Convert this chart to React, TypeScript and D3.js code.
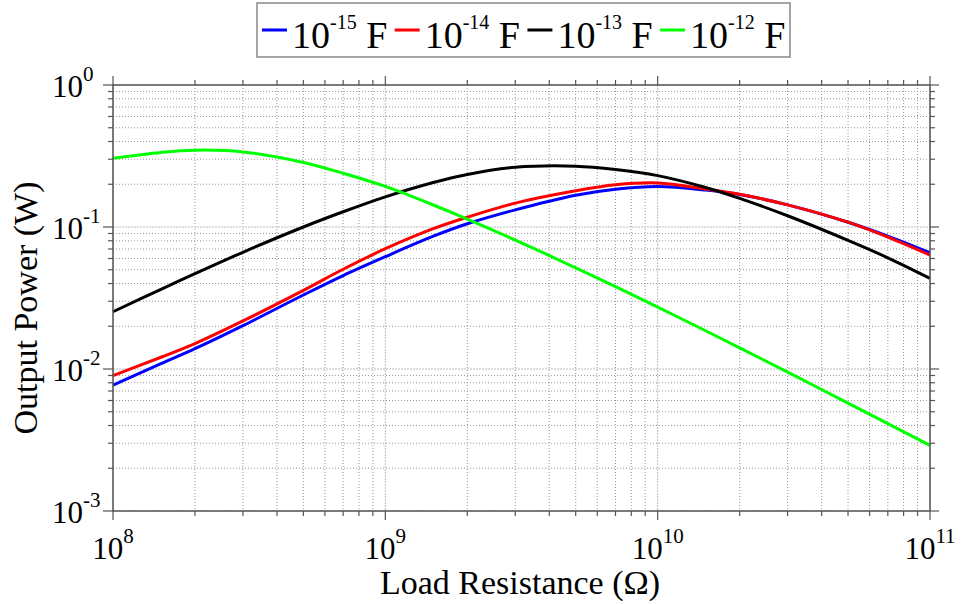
import React from "react";
import * as d3 from "d3";

const resistance = [1e8, 1.5e8, 2e8, 3e8, 5e8, 7e8, 1e9, 1.5e9, 2e9, 3e9, 5e9, 7e9, 1e10, 1.5e10, 2e10, 3e10, 5e10, 7e10, 1e11];
const power15 = [0.0077, 0.0109, 0.0139, 0.0202, 0.0332, 0.0455, 0.0618, 0.0861, 0.1054, 0.1321, 0.1675, 0.1845, 0.1928, 0.182, 0.1694, 0.1432, 0.1081, 0.0863, 0.0659];
const power14 = [0.00897, 0.0121, 0.0151, 0.0218, 0.0358, 0.0504, 0.0703, 0.0973, 0.1172, 0.1472, 0.1799, 0.1982, 0.2042, 0.1849, 0.1698, 0.1432, 0.1081, 0.0849, 0.0635];
const power13 = [0.0253, 0.0364, 0.0469, 0.0664, 0.1, 0.128, 0.163, 0.2056, 0.2344, 0.263, 0.268, 0.254, 0.23, 0.1897, 0.159, 0.12, 0.0805, 0.0607, 0.0435];
const power12 = [0.305, 0.335, 0.3475, 0.338, 0.285, 0.239, 0.193, 0.1429, 0.1138, 0.0809, 0.0516, 0.038, 0.0273, 0.0186, 0.0141, 0.0095, 0.00575, 0.00412, 0.0029];

const seriesExps = ["-15", "-14", "-13", "-12"];
const seriesColors = ["#0000ff", "#ff0000", "#000000", "#00ff00"];
const seriesValues = [power15, power14, power13, power12];

const xMajors = [1e8, 1e9, 1e10, 1e11];
const xMajorExps = ["8", "9", "10", "11"];
const yMajors = [1e-3, 1e-2, 1e-1, 1];
const yMajorExps = ["-3", "-2", "-1", "0"];

const FONT = "'Liberation Serif', 'Times New Roman', serif";

function minors(decades: number[]) {
  const out: number[] = [];
  for (let i = 0; i < decades.length - 1; i++) {
    for (let k = 2; k <= 9; k++) out.push(decades[i] * k);
  }
  return out;
}

export default function App() {
  const W = 963, H = 604;
  const left = 113, right = 930, top = 85, bottom = 511;
  const x = d3.scaleLog().domain([1e8, 1e11]).range([left, right]);
  const y = d3.scaleLog().domain([1e-3, 1]).range([bottom, top]);
  const xMin = minors(xMajors);
  const yMin = minors(yMajors);
  const line = d3
    .line<[number, number]>()
    .x((d) => x(d[0]))
    .y((d) => y(d[1]))
    .curve(d3.curveCatmullRom.alpha(0.5));
  const axisColor = "#555";

  return (
    <svg width={W} height={H} style={{ position: "absolute", left: 0, top: 0, background: "#fff" }}>
      <rect x={0} y={0} width={W} height={H} fill="#fff" />
      {/* grid */}
      <g>
        {xMin.map((v, i) => (
          <line key={"xm" + i} x1={x(v)} x2={x(v)} y1={top} y2={bottom} stroke="#999" strokeWidth={1} strokeDasharray="1,2" />
        ))}
        {yMin.map((v, i) => (
          <line key={"ym" + i} x1={left} x2={right} y1={y(v)} y2={y(v)} stroke="#999" strokeWidth={1} strokeDasharray="1,2" />
        ))}
        {xMajors.map((v, i) => (
          <line key={"xM" + i} x1={x(v)} x2={x(v)} y1={top} y2={bottom} stroke="#bbb" strokeWidth={1} strokeDasharray="2,1" />
        ))}
        {yMajors.map((v, i) => (
          <line key={"yM" + i} x1={left} x2={right} y1={y(v)} y2={y(v)} stroke="#bbb" strokeWidth={1} strokeDasharray="2,1" />
        ))}
      </g>
      {/* series */}
      <g fill="none">
        {seriesValues.map((vals, si) => (
          <path
            key={"s" + si}
            d={line(resistance.map((r, i) => [r, vals[i]] as [number, number])) || ""}
            stroke={seriesColors[si]}
            strokeWidth={3}
            strokeLinejoin="round"
          />
        ))}
      </g>
      {/* frame */}
      <rect x={left} y={top} width={right - left} height={bottom - top} fill="none" stroke={axisColor} strokeWidth={1.5} />
      {/* ticks */}
      <g stroke={axisColor} strokeWidth={1.2}>
        {xMin.map((v, i) => (
          <g key={"xt" + i}>
            <line x1={x(v)} x2={x(v)} y1={bottom} y2={bottom + 5} />
            <line x1={x(v)} x2={x(v)} y1={top} y2={top - 5} />
          </g>
        ))}
        {xMajors.map((v, i) => (
          <g key={"xT" + i}>
            <line x1={x(v)} x2={x(v)} y1={bottom} y2={bottom + 9} />
            <line x1={x(v)} x2={x(v)} y1={top} y2={top - 9} />
          </g>
        ))}
        {yMin.map((v, i) => (
          <g key={"yt" + i}>
            <line x1={left - 5} x2={left} y1={y(v)} y2={y(v)} />
            <line x1={right} x2={right + 5} y1={y(v)} y2={y(v)} />
          </g>
        ))}
        {yMajors.map((v, i) => (
          <g key={"yT" + i}>
            <line x1={left - 10} x2={left} y1={y(v)} y2={y(v)} />
            <line x1={right} x2={right + 9} y1={y(v)} y2={y(v)} />
          </g>
        ))}
      </g>
      {/* tick labels */}
      <g fontFamily={FONT} fill="#000">
        {xMajors.map((v, i) => (
          <text key={"xl" + i} x={x(v)} y={559} textAnchor="middle" fontSize={31}>
            <tspan>10</tspan>
            <tspan dy={-16} fontSize={21}>{xMajorExps[i]}</tspan>
          </text>
        ))}
        {yMajors.map((v, i) => (
          <text key={"yl" + i} x={52} y={y(v) + 11.5} fontSize={31}>
            <tspan>10</tspan>
            <tspan dy={-16} fontSize={21}>{yMajorExps[i]}</tspan>
          </text>
        ))}
      </g>
      {/* axis titles */}
      <text x={520} y={594} textAnchor="middle" fontFamily={FONT} fontSize={34}>
        Load Resistance (Ω)
      </text>
      <text transform="translate(37,308) rotate(-90)" textAnchor="middle" fontFamily={FONT} fontSize={34}>
        Output Power (W)
      </text>
      {/* legend */}
      <g>
        <rect x={257} y={3} width={533} height={54} fill="#fff" stroke="#888" strokeWidth={1.5} />
        {seriesExps.map((e, i) => {
          const x0 = 262 + i * 132.7;
          return (
            <g key={"lg" + i}>
              <line x1={x0} x2={x0 + 25} y1={30} y2={30} stroke={seriesColors[i]} strokeWidth={3} />
              <text x={x0 + 30} y={48} fontFamily={FONT} fontSize={38}>
                <tspan>10</tspan>
                <tspan dy={-19} fontSize={20}>{e}</tspan>
                <tspan dy={19}> F</tspan>
              </text>
            </g>
          );
        })}
      </g>
    </svg>
  );
}
